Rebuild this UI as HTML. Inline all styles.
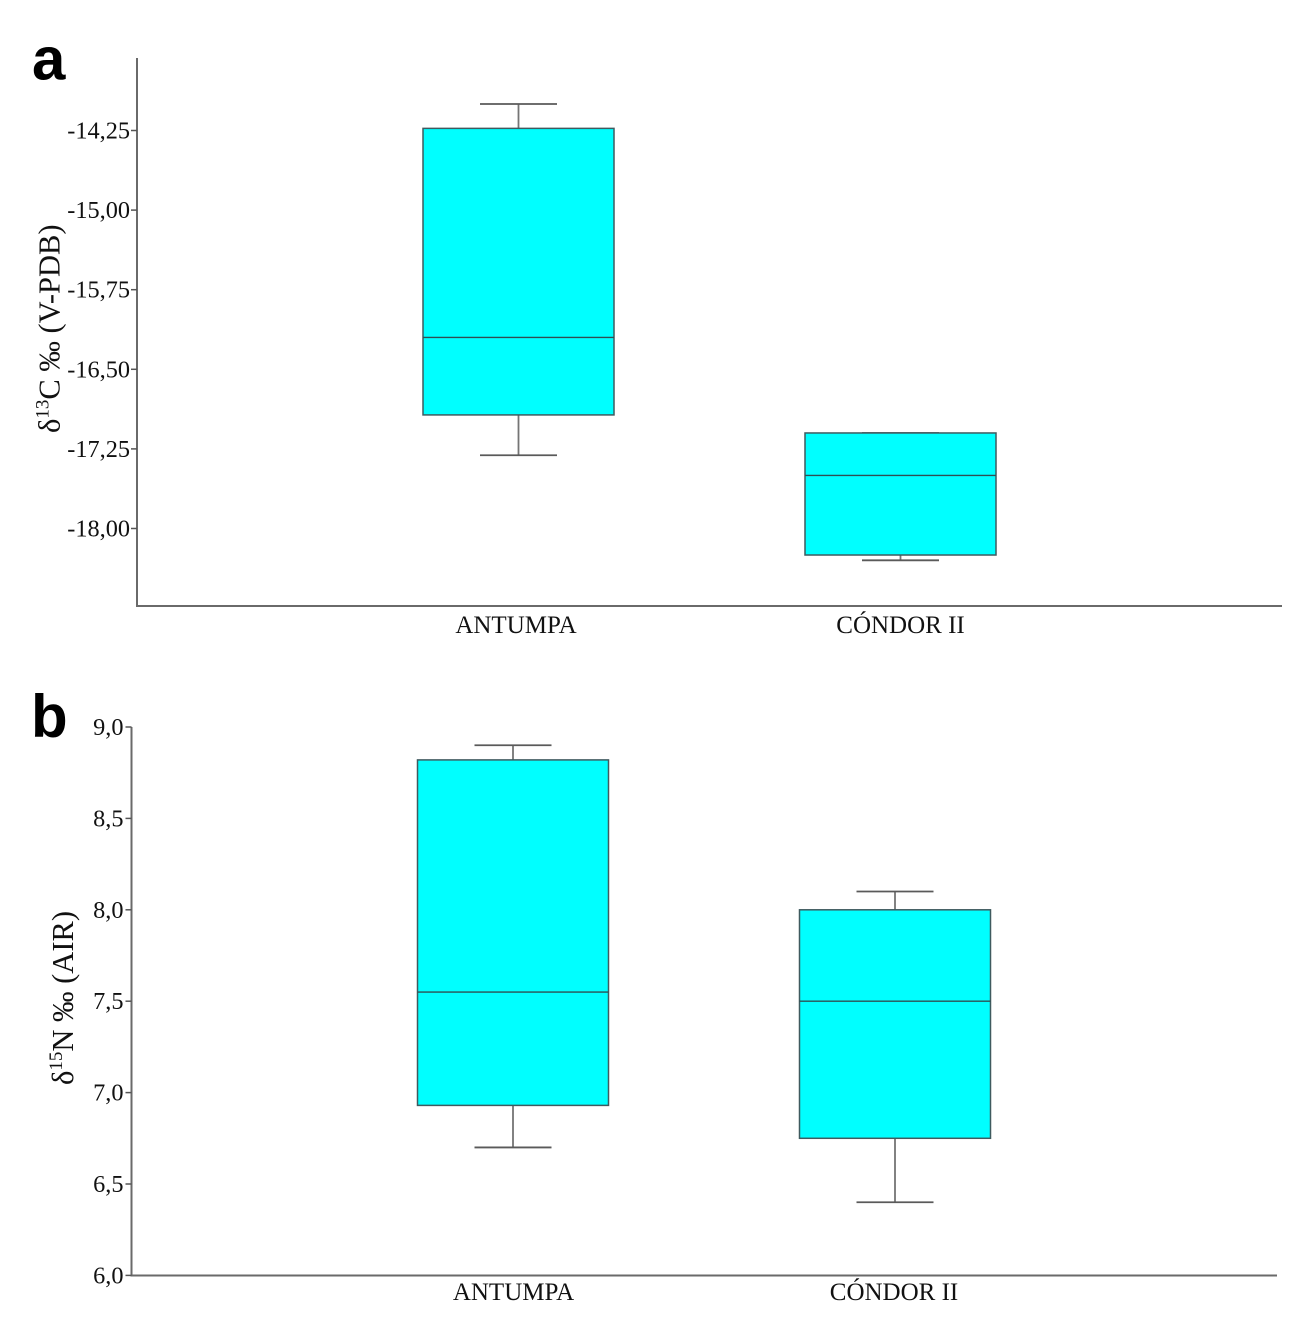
<!DOCTYPE html>
<html lang="en">
<head>
<meta charset="utf-8">
<title>Isotope box plots</title>
<style>
html,body{margin:0;padding:0;background:#fff;width:1299px;height:1327px;overflow:hidden}
svg{display:block}
text{font-family:"Liberation Serif",serif;fill:#111}
.panel{font-family:"Liberation Sans",sans-serif;font-weight:bold;fill:#000}
</style>
</head>
<body>
<svg id="chart" width="1299" height="1327" viewBox="0 0 1299 1327" xmlns="http://www.w3.org/2000/svg">
  <text class="panel" x="32" y="79.500" font-size="60">a</text>
  <text class="panel" x="31" y="737" font-size="60">b</text>
  <g id="panel-a"></g>
  <g id="panel-b"></g>
  <text transform="translate(59.500,433) rotate(-90)" font-size="30.500">δ<tspan font-size="19" dy="-11">13</tspan><tspan dy="11">C ‰ (V-PDB)</tspan></text>
  <text transform="translate(73,1085) rotate(-90)" font-size="30.500">δ<tspan font-size="19" dy="-11">15</tspan><tspan dy="11">N ‰ (AIR)</tspan></text>
</svg>
<script>
const categories = ["ANTUMPA", "CÓNDOR II"];

// Each series: [lower whisker, Q1, median, Q3, upper whisker]
const carbonAntumpa = [-17.31, -16.93, -16.2, -14.23, -14.0];
const carbonCondor = [-18.3, -18.25, -17.5, -17.1, -17.1];
const nitrogenAntumpa = [6.7, 6.93, 7.55, 8.82, 8.9];
const nitrogenCondor = [6.4, 6.75, 7.5, 8.0, 8.1];

const carbonTicks = [-14.25, -15.0, -15.75, -16.5, -17.25, -18.0];
const carbonTickLabels = ["-14,25", "-15,00", "-15,75", "-16,50", "-17,25", "-18,00"];
const nitrogenTicks = [9.0, 8.5, 8.0, 7.5, 7.0, 6.5, 6.0];
const nitrogenTickLabels = ["9,0", "8,5", "8,0", "7,5", "7,0", "6,5", "6,0"];

const NS = "http://www.w3.org/2000/svg";

function makeLine(parent, x1, y1, x2, y2, color, width, name) {
  const el = document.createElementNS(NS, "line");
  el.setAttribute("x1", x1);
  el.setAttribute("y1", y1);
  el.setAttribute("x2", x2);
  el.setAttribute("y2", y2);
  el.setAttribute("stroke", color);
  el.setAttribute("stroke-width", width);
  
  
  parent.appendChild(el);
  return el;
}

function makeText(parent, x, y, content, anchor, size, name) {
  const el = document.createElementNS(NS, "text");
  el.setAttribute("x", x);
  el.setAttribute("y", y);
  el.setAttribute("font-size", size);
  el.setAttribute("text-anchor", anchor);
  el.textContent = content;
  
  
  parent.appendChild(el);
  return el;
}

function drawPanel(cfg) {
  const g = document.getElementById(cfg.id);
  const yScale = v => cfg.y0 + (cfg.v0 - v) * cfg.pxPerUnit;
  const xScale = i => cfg.xFirst + i * cfg.xStep;
  const axisColor = "#6a6a6a";

  cfg.series.forEach((s, i) => {
    const cx = xScale(i);
    const [low, q1, med, q3, high] = s;
    const left = cx - cfg.boxHalf;
    const right = cx + cfg.boxHalf;
    const key = cfg.prefix + "-" + (i === 0 ? "antumpa" : "condor");

    makeLine(g, cx, yScale(high), cx, yScale(q3), "#757575", 1.8, key + "-upper-whisker");
    makeLine(g, cx, yScale(q1), cx, yScale(low), "#757575", 1.8, key + "-lower-whisker");
    makeLine(g, cx - cfg.capHalf, yScale(high), cx + cfg.capHalf, yScale(high), "#5a5a5a", 1.8, key + "-upper-cap");
    makeLine(g, cx - cfg.capHalf, yScale(low), cx + cfg.capHalf, yScale(low), "#5a5a5a", 1.8, key + "-lower-cap");

    const box = document.createElementNS(NS, "rect");
    box.setAttribute("x", left);
    box.setAttribute("y", yScale(q3));
    box.setAttribute("width", right - left);
    box.setAttribute("height", yScale(q1) - yScale(q3));
    box.setAttribute("fill", "#00ffff");
    box.setAttribute("stroke", "#3f5a5f");
    box.setAttribute("stroke-width", "1.5");
    
    
    g.appendChild(box);

    makeLine(g, left, yScale(med), right, yScale(med), "#2f4f52", 1.4, key + "-median");
    makeText(g, cx + cfg.labelOffsets[i], cfg.labelY, categories[i], "middle", 25, key + "-category-label");
  });

  makeLine(g, cfg.axisX, cfg.axisTop, cfg.axisX, cfg.axisY + 1, axisColor, 2, cfg.prefix + "-y-axis");
  makeLine(g, cfg.axisX, cfg.axisY, cfg.axisRight, cfg.axisY, axisColor, 2, cfg.prefix + "-x-axis");

  cfg.ticks.forEach((t, i) => {
    const y = yScale(t);
    makeLine(g, cfg.axisX - 6, y, cfg.axisX, y, "#555555", 1.5, cfg.prefix + "-y-tick");
    makeText(g, cfg.axisX - cfg.tickGap, y + 8, cfg.tickLabels[i], "end", 24.3, cfg.prefix + "-y-tick-label");
  });
}

drawPanel({
  id: "panel-a", prefix: "carbon",
  series: [carbonAntumpa, carbonCondor],
  ticks: carbonTicks, tickLabels: carbonTickLabels,
  v0: -14.25, y0: 130.5, pxPerUnit: 106.13,
  xFirst: 518.5, xStep: 382, boxHalf: 95.5, capHalf: 38.5,
  axisX: 137, axisTop: 58, axisY: 606, axisRight: 1282,
  labelY: 633, labelOffsets: [-2.5, 0], tickGap: 7
});

drawPanel({
  id: "panel-b", prefix: "nitrogen",
  series: [nitrogenAntumpa, nitrogenCondor],
  ticks: nitrogenTicks, tickLabels: nitrogenTickLabels,
  v0: 9.0, y0: 727, pxPerUnit: 182.8,
  xFirst: 513, xStep: 382, boxHalf: 95.5, capHalf: 38.5,
  axisX: 131.5, axisTop: 727, axisY: 1275.5, axisRight: 1277,
  labelY: 1300, labelOffsets: [0.5, -1], tickGap: 8
});
</script>
</body>
</html>
